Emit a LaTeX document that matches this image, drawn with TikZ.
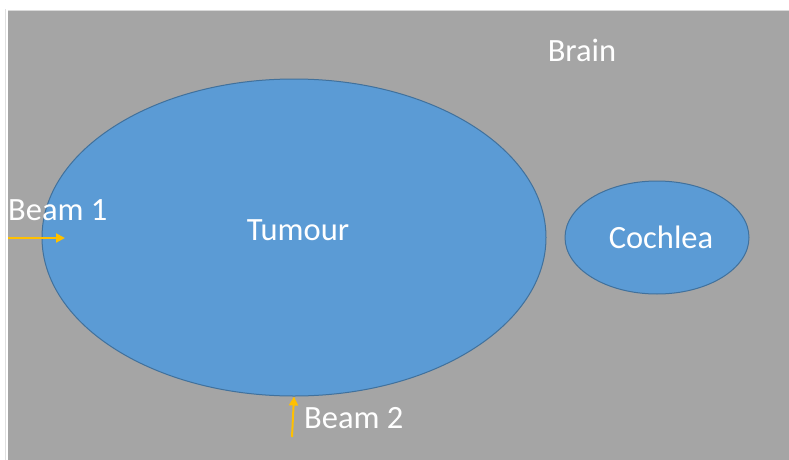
\documentclass[tikz,border=0pt]{standalone}
\usepackage{fontspec}
\setmainfont{Carlito}
\usetikzlibrary{shapes.geometric,arrows.meta}
\definecolor{braingray}{HTML}{A5A5A5}
\definecolor{organblue}{HTML}{5B9BD5}
\definecolor{organedge}{HTML}{41719C}
\definecolor{beamorange}{HTML}{FFC000}
\tikzset{
  organ/.style={ellipse, fill=organblue, draw=organedge, line width=1pt, inner sep=0pt},
  lbl/.style={text=white, font=\fontsize{32.5}{36}\selectfont, inner sep=0pt},
  beam/.style={draw=beamorange, line width=2pt, -{Triangle[length=9pt,width=9pt]}}
}
\begin{document}
\begin{tikzpicture}[x=1pt,y=1pt]
  \useasboundingbox (0,0) rectangle (789,459);
  \fill[white] (0,0) rectangle (789,459);
  % background tissue (runs past the page edge on the right and bottom)
  \fill[braingray] (8,-6) rectangle (796,448);
  \draw[black!15, line width=0.8pt] (8,448.4) -- (796,448.4);
  \draw[black!12, line width=1pt] (5.5,-6) -- (5.5,450);
  % organs
  \node[organ, minimum width=504pt, minimum height=317pt] (tumour) at (294,221.5) {};
  \node[organ, minimum width=184pt, minimum height=113pt] (cochlea) at (657,221.5) {};
  % labels
  \node[lbl] (tumourlbl) at (298,229) {Tumour};
  \node[lbl] (cochlealbl) at (661,222) {Cochlea};
  \node[lbl] (brainlbl) at (582,409) {Brain};
  \node[lbl, anchor=base west] (beam1lbl) at (8,239) {Beam 1};
  \node[lbl, anchor=base west] (beam2lbl) at (304,31) {Beam 2};
  % beams
  \coordinate (b1s) at (8,221);
  \coordinate (b1e) at (65,221);
  \coordinate (b2s) at (292,22);
  \draw[beam] (b1s) -- (b1e);
  \draw[beam] (b2s) -- (tumour.south);
\end{tikzpicture}
\end{document}
